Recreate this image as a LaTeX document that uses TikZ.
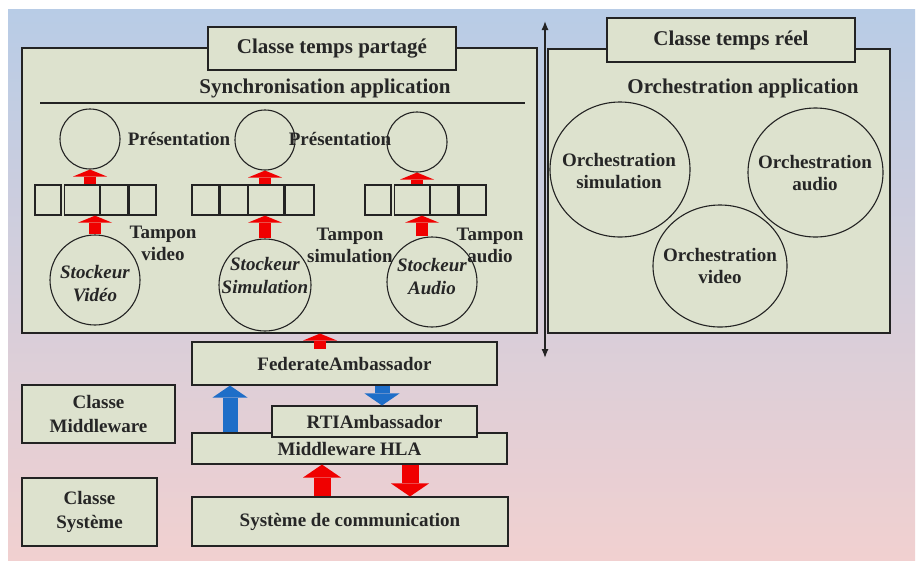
\documentclass[tikz,border=0pt]{standalone}
\usepackage{fontspec}
\setmainfont{Liberation Serif}
\usetikzlibrary{shapes.geometric, arrows.meta, positioning}
\definecolor{boxfill}{RGB}{221,226,206}
\definecolor{edge}{RGB}{35,35,35}
\definecolor{bgtop}{RGB}{184,204,230}
\definecolor{bgmid}{RGB}{216,210,224}
\definecolor{bgbot}{RGB}{241,208,208}
\definecolor{redarr}{RGB}{240,0,0}
\definecolor{bluearr}{RGB}{30,110,200}
\tikzstyle{frame} = [rectangle, draw=edge, fill=boxfill, line width=1.1pt, inner sep=0pt]
\tikzstyle{layer} = [frame, font=\fontsize{19}{24}\selectfont\bfseries, align=center, text=black!85]
\tikzstyle{title} = [frame, font=\fontsize{21}{24}\selectfont\bfseries, text=black!85]
\tikzstyle{heading} = [font=\fontsize{21}{24}\selectfont\bfseries, inner sep=0pt, text=black!85]
\tikzstyle{txt} = [font=\fontsize{19}{22}\selectfont\bfseries, align=center, inner sep=0pt, text=black!85]
\tikzstyle{cell} = [rectangle, draw=edge, line width=1.3pt, minimum height=30pt, inner sep=0pt]
\tikzstyle{disc} = [circle, draw=edge, line width=1.1pt, inner sep=0pt]
\tikzstyle{orch} = [ellipse, draw=edge, line width=1.1pt, inner sep=0pt]
\tikzstyle{redsmall} = [redarr, line width=12pt, -{Triangle[length=7pt,width=34pt,line width=0pt]}]
\tikzstyle{redbig} = [redarr, line width=17pt, -{Triangle[length=13pt,width=38pt,line width=0pt]}]
\tikzstyle{bluebig} = [bluearr, line width=15pt, -{Triangle[length=12pt,width=35pt,line width=0pt]}]
\tikzstyle{divider} = [edge, line width=1.3pt, {Latex[length=9pt,width=7pt]}-{Latex[length=9pt,width=7pt]}]

\begin{document}
\begin{tikzpicture}[x=1pt, y=-1pt]
\useasboundingbox (0,0) rectangle (917,563);
\fill [white] (0,0) rectangle (917,563);
\shade [top color=bgtop, middle color=bgmid, bottom color=bgbot] (8,9) rectangle (915,560);

% shared time class
\node (shared) [frame, minimum width=515pt, minimum height=285pt] at (279.5,190.5) {};
\node (sharedtitle) [title, minimum width=248pt, minimum height=43pt] at (332,48.5) {Classe temps partagé};
\node (sync) [heading] at (325,88) {Synchronisation application};
\draw [edge, line width=1.1pt] (40,103) -- (525,103);

% video
\node (presV) [disc, minimum size=60pt] at (90,139) {};
\node (presVtxt) [txt] at (179,139) {Présentation};
\node (bufV1) [cell, minimum width=26pt] at (48,200) {};
\node (bufV2) [cell, minimum width=35pt, right=2pt of bufV1] {};
\node (bufV3) [cell, minimum width=27pt, right=0pt of bufV2] {};
\node (bufV4) [cell, minimum width=27pt, right=0pt of bufV3] {};
\node (tampV) [txt] at (163,243) {Tampon\\video};
\node (stockV) [disc, minimum size=90pt] at (95,280) {};
\node (stockVtxt) [txt, font=\fontsize{19}{23}\selectfont\bfseries\itshape] at (95,284) {Stockeur\\Vidéo};

% simulation
\node (presS) [disc, minimum size=60pt] at (265,140) {};
\node (presStxt) [txt] at (340,139) {Présentation};
\node (bufS1) [cell, minimum width=27pt] at (205.5,200) {};
\node (bufS2) [cell, minimum width=27pt, right=0pt of bufS1] {};
\node (bufS3) [cell, minimum width=35pt, right=0pt of bufS2] {};
\node (bufS4) [cell, minimum width=29pt, right=0pt of bufS3] {};
\node (tampS) [txt] at (350,245) {Tampon\\simulation};
\node (stockS) [disc, minimum size=92pt] at (265,285) {};
\node (stockStxt) [txt, font=\fontsize{19}{23}\selectfont\bfseries\itshape] at (265,276) {Stockeur\\Simulation};

% audio
\node (presA) [disc, minimum size=60pt] at (417,142) {};
\node (bufA1) [cell, minimum width=26pt] at (378,200) {};
\node (bufA2) [cell, minimum width=35pt, right=2pt of bufA1] {};
\node (bufA3) [cell, minimum width=27pt, right=0pt of bufA2] {};
\node (bufA4) [cell, minimum width=27pt, right=0pt of bufA3] {};
\node (tampA) [txt] at (490,245) {Tampon\\audio};
\node (stockA) [disc, minimum size=90pt] at (432,282) {};
\node (stockAtxt) [txt, font=\fontsize{19}{23}\selectfont\bfseries\itshape] at (432,277) {Stockeur\\Audio};

\draw [redsmall] (presV.south |- bufV2.north) -- (presV.south);
\draw [redsmall] (stockV.north) -- (stockV.north |- bufV2.south);
\draw [redsmall] (presS.south |- bufS3.north) -- (presS.south);
\draw [redsmall] (stockS.north) -- (stockS.north |- bufS3.south);
\draw [redsmall] (presA.south |- bufA2.north) -- (presA.south);
\draw [redsmall] ([xshift=-10pt]stockA.north) -- ([xshift=-10pt]stockA.north |- bufA2.south);

% real time class
\node (realtime) [frame, minimum width=342pt, minimum height=284pt] at (719,191) {};
\node (realtitle) [title, minimum width=248pt, minimum height=44pt] at (731,40) {Classe temps réel};
\node (orchapp) [heading] at (743,88) {Orchestration application};
\node (orchS) [orch, minimum width=140pt, minimum height=135pt] at (620,169.5) {};
\node (orchStxt) [txt] at (619,171) {Orchestration\\simulation};
\node (orchA) [orch, minimum width=135pt, minimum height=129pt] at (815.5,172.5) {};
\node (orchAtxt) [txt] at (815,173) {Orchestration\\audio};
\node (orchV) [orch, minimum width=134pt, minimum height=122pt] at (720,266) {};
\node (orchVtxt) [txt] at (720,266) {Orchestration\\video};

\coordinate (splittop) at (545,21);
\coordinate (splitbot) at (545,358);
\draw [divider] (splittop) -- (splitbot);

% middleware and system layers
\node (fed) [layer, minimum width=305pt, minimum height=43pt] at (344.5,363.5) {FederateAmbassador};
\node (hla) [layer, minimum width=315pt, minimum height=31pt] at (349.5,448.5) {Middleware HLA};
\node (rti) [layer, minimum width=205pt, minimum height=31pt] at (374.5,421.5) {RTIAmbassador};
\node (sys) [layer, minimum width=316pt, minimum height=49pt] at (350,521.5) {Système de communication};
\node (mwclass) [layer, minimum width=153pt, minimum height=58pt] at (98.5,414) {Classe\\Middleware};
\node (sysclass) [layer, minimum width=135pt, minimum height=68pt] at (89.5,512) {Classe\\Système};

\coordinate (fedout) at (320,349);
\coordinate (xb1) at (230,0);
\coordinate (xb2) at (382,0);
\coordinate (xr1) at (322,0);
\coordinate (xr2) at (410,0);
\draw [redsmall] (fedout) -- (fedout |- shared.south);
\draw [bluebig] (xb1 |- hla.north) -- (xb1 |- fed.south);
\draw [bluebig] (xb2 |- fed.south) -- (xb2 |- rti.north);
\draw [redbig] (xr1 |- sys.north) -- (xr1 |- hla.south);
\draw [redbig] (xr2 |- hla.south) -- (xr2 |- sys.north);
\end{tikzpicture}
\end{document}
